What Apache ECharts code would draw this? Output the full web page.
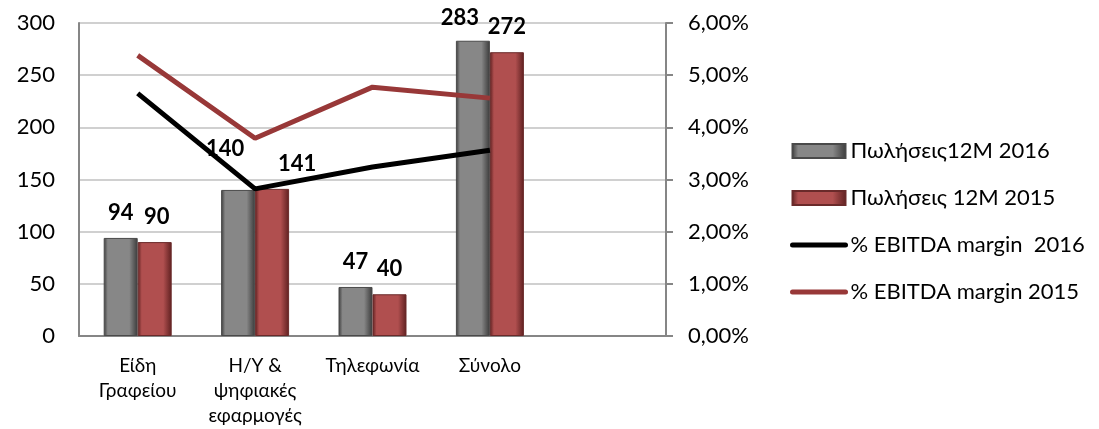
<!DOCTYPE html>
<html>
<head>
<meta charset="utf-8">
<script src="https://cdn.jsdelivr.net/npm/echarts@6/dist/echarts.min.js"></script>
<style>
  html, body { margin: 0; padding: 0; background: #fff; }
  #chart { width: 1099px; height: 429px; }
</style>
</head>
<body>
<div id="chart"></div>
<script>
var categories = ['Είδη\nΓραφείου', 'Η/Υ &\nψηφιακές\nεφαρμογές', 'Τηλεφωνία', 'Σύνολο', ''];
var sales2016 = [94, 140, 47, 283];
var sales2015 = [90, 141, 40, 272];
var ebitda2016 = [4.65, 2.82, 3.24, 3.56];
var ebitda2015 = [5.38, 3.79, 4.77, 4.56];
var leftTicks = [0, 50, 100, 150, 200, 250, 300];
var rightTicks = [0, 1, 2, 3, 4, 5, 6];

var font = 'Lato, "Noto Sans", sans-serif';

// excel had a few labels dragged around by hand
var offs2016 = [[0, 0], [-13, -16], [0, 0], [-13, 2]];
var offs2015 = [[2, 0], [25, 0], [0, 0], [0, 0]];

function barData(vals, offs) {
  var out = [];
  for (var i = 0; i < vals.length; i++) {
    out.push({ value: vals[i], label: { offset: offs[i] } });
  }
  return out;
}

function grad(edge, mid) {
  return new echarts.graphic.LinearGradient(0, 0, 1, 0, [
    { offset: 0, color: edge },
    { offset: 0.12, color: mid },
    { offset: 0.75, color: mid },
    { offset: 1, color: edge }
  ]);
}

var barLabel = {
  show: true,
  position: 'top',
  distance: 14,
  fontFamily: font,
  fontSize: 22,
  fontWeight: 'bold',
  color: '#000'
};

var chart = echarts.init(document.getElementById('chart'));
chart.setOption({
  animation: false,
  textStyle: { fontFamily: font },
  grid: { left: 79, right: 433, top: 23, bottom: 93 },
  legend: {
    orient: 'vertical',
    left: 785,
    top: 135,
    itemWidth: 53,
    itemHeight: 14,
    itemGap: 25,
    textStyle: { fontFamily: font, fontSize: 22, color: '#000' },
    data: [
      { name: 'Πωλήσεις12M 2016', icon: 'rect' },
      { name: 'Πωλήσεις 12M 2015', icon: 'rect' },
      // keep the line, hide the round marker
      { name: '% EBITDA margin  2016', itemStyle: { opacity: 0 }, lineStyle: { width: 5, cap: 'round' } },
      { name: '% EBITDA margin 2015', itemStyle: { opacity: 0 }, lineStyle: { width: 5, cap: 'round' } }
    ]
  },
  xAxis: {
    type: 'category',
    data: categories,
    axisLine: { lineStyle: { color: '#868686', width: 2 } },
    axisTick: { show: false },
    axisLabel: {
      interval: 0,
      color: '#000',
      fontFamily: font,
      fontSize: 19,
      lineHeight: 25,
      margin: 17
    }
  },
  yAxis: [
    {
      type: 'value',
      min: leftTicks[0],
      max: leftTicks[leftTicks.length - 1],
      interval: 50,
      axisLine: { show: true, lineStyle: { color: '#868686', width: 2 } },
      axisTick: { show: false },
      splitLine: { lineStyle: { color: '#c0c0c0', width: 1.5 } },
      axisLabel: { color: '#000', fontFamily: font, fontSize: 22, margin: 24 }
    },
    {
      type: 'value',
      min: rightTicks[0],
      max: rightTicks[rightTicks.length - 1],
      interval: 1,
      position: 'right',
      axisLine: { show: true, lineStyle: { color: '#868686', width: 2 } },
      axisTick: { show: true, length: 7, lineStyle: { color: '#868686', width: 2 } },
      splitLine: { show: false },
      axisLabel: {
        color: '#000',
        fontFamily: font,
        fontSize: 22,
        margin: 22,
        formatter: function (v) { return v.toFixed(2).replace('.', ',') + '%'; }
      }
    }
  ],
  series: [
    {
      name: 'Πωλήσεις12M 2016',
      type: 'bar',
      barWidth: 34,
      barGap: '0%',
      data: barData(sales2016, offs2016),
      itemStyle: { color: grad('#3a3a3a', '#878787'), borderColor: '#4a4a4a', borderWidth: 1 },
      label: barLabel
    },
    {
      name: 'Πωλήσεις 12M 2015',
      type: 'bar',
      barWidth: 34,
      barGap: '0%',
      data: barData(sales2015, offs2015),
      itemStyle: { color: grad('#5e2020', '#b04f4f'), borderColor: '#6a2a2a', borderWidth: 1 },
      label: barLabel
    },
    {
      name: '% EBITDA margin  2016',
      type: 'line',
      yAxisIndex: 1,
      data: ebitda2016,
      symbol: 'none',
      lineStyle: { color: '#000', width: 5 },
      itemStyle: { color: '#000' }
    },
    {
      name: '% EBITDA margin 2015',
      type: 'line',
      yAxisIndex: 1,
      data: ebitda2015,
      symbol: 'none',
      lineStyle: { color: '#983838', width: 5 },
      itemStyle: { color: '#983838' }
    }
  ]
});
</script>
</body>
</html>
